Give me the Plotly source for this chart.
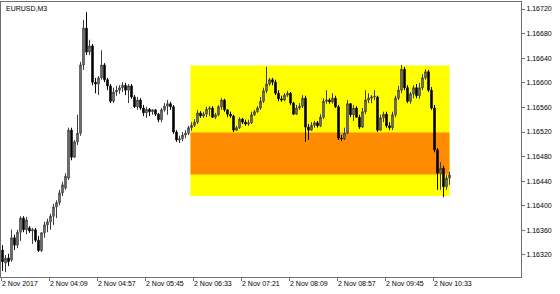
import pandas as pd
import plotly.graph_objects as go

# ---- data (EURUSD, M3, 2 Nov 2017) ----
start_time = "2017-11-02 03:21"
n_bars = 150

opens = [1.16328,1.16307,1.16315,1.16312,1.16348,1.16336,1.16357,1.16380,1.16361,1.16364,
         1.16359,1.16361,1.16344,1.16327,1.16356,1.16369,1.16374,1.16383,1.16398,1.16405,
         1.16421,1.16429,1.16445,1.16523,1.16479,1.16504,1.16518,1.16629,1.16689,1.16650,
         1.16660,1.16601,1.16598,1.16608,1.16629,1.16605,1.16595,1.16570,1.16585,1.16588,
         1.16592,1.16596,1.16588,1.16595,1.16577,1.16561,1.16572,1.16559,1.16551,1.16557,
         1.16553,1.16556,1.16549,1.16540,1.16556,1.16562,1.16566,1.16561,1.16520,1.16507,
         1.16509,1.16515,1.16518,1.16527,1.16531,1.16536,1.16551,1.16546,1.16549,1.16557,
         1.16559,1.16544,1.16548,1.16561,1.16572,1.16556,1.16549,1.16546,1.16523,1.16527,
         1.16541,1.16536,1.16533,1.16535,1.16548,1.16553,1.16559,1.16570,1.16587,1.16598,
         1.16605,1.16601,1.16583,1.16574,1.16572,1.16580,1.16583,1.16567,1.16549,1.16559,
         1.16562,1.16575,1.16528,1.16523,1.16531,1.16535,1.16530,1.16544,1.16570,1.16572,
         1.16569,1.16575,1.16561,1.16510,1.16509,1.16518,1.16566,1.16548,1.16559,1.16544,
         1.16528,1.16553,1.16572,1.16575,1.16577,1.16577,1.16523,1.16543,1.16549,1.16530,
         1.16527,1.16548,1.16575,1.16588,1.16622,1.16592,1.16570,1.16582,1.16592,1.16579,
         1.16592,1.16608,1.16618,1.16588,1.16559,1.16491,1.16453,1.16461,1.16431,1.16445]

highs = [1.16336,1.16320,1.16322,1.16361,1.16353,1.16361,1.16383,1.16383,1.16382,1.16367,
         1.16364,1.16364,1.16351,1.16357,1.16374,1.16379,1.16387,1.16403,1.16409,1.16426,
         1.16439,1.16453,1.16527,1.16527,1.16507,1.16548,1.16634,1.16702,1.16715,1.16670,
         1.16663,1.16608,1.16611,1.16653,1.16632,1.16608,1.16598,1.16592,1.16595,1.16596,
         1.16601,1.16600,1.16598,1.16598,1.16580,1.16577,1.16575,1.16564,1.16561,1.16559,
         1.16557,1.16557,1.16551,1.16559,1.16567,1.16572,1.16569,1.16564,1.16523,1.16514,
         1.16520,1.16523,1.16530,1.16536,1.16541,1.16556,1.16554,1.16553,1.16561,1.16562,
         1.16562,1.16551,1.16564,1.16575,1.16574,1.16557,1.16553,1.16548,1.16530,1.16544,
         1.16543,1.16540,1.16540,1.16553,1.16556,1.16562,1.16577,1.16592,1.16626,1.16608,
         1.16608,1.16605,1.16588,1.16579,1.16583,1.16587,1.16585,1.16569,1.16564,1.16567,
         1.16580,1.16579,1.16533,1.16536,1.16538,1.16538,1.16549,1.16575,1.16588,1.16575,
         1.16583,1.16579,1.16564,1.16515,1.16527,1.16572,1.16567,1.16564,1.16562,1.16548,
         1.16559,1.16588,1.16583,1.16580,1.16588,1.16579,1.16548,1.16553,1.16553,1.16536,
         1.16553,1.16579,1.16595,1.16629,1.16626,1.16596,1.16585,1.16596,1.16598,1.16600,
         1.16614,1.16622,1.16621,1.16593,1.16564,1.16494,1.16471,1.16465,1.16450,1.16455]

lows = [1.16294,1.16292,1.16302,1.16309,1.16328,1.16331,1.16343,1.16357,1.16354,1.16356,
        1.16338,1.16341,1.16325,1.16325,1.16348,1.16357,1.16361,1.16369,1.16380,1.16401,
        1.16416,1.16426,1.16442,1.16474,1.16478,1.16499,1.16514,1.16621,1.16645,1.16645,
        1.16596,1.16583,1.16580,1.16605,1.16601,1.16588,1.16567,1.16567,1.16579,1.16582,
        1.16585,1.16580,1.16567,1.16574,1.16559,1.16556,1.16556,1.16546,1.16543,1.16546,
        1.16548,1.16546,1.16536,1.16536,1.16553,1.16548,1.16556,1.16517,1.16504,1.16502,
        1.16505,1.16510,1.16515,1.16522,1.16528,1.16533,1.16543,1.16543,1.16544,1.16546,
        1.16543,1.16541,1.16546,1.16556,1.16553,1.16544,1.16543,1.16520,1.16522,1.16525,
        1.16533,1.16530,1.16530,1.16533,1.16546,1.16551,1.16556,1.16567,1.16583,1.16595,
        1.16596,1.16580,1.16570,1.16569,1.16570,1.16577,1.16564,1.16548,1.16548,1.16556,
        1.16559,1.16504,1.16507,1.16522,1.16527,1.16527,1.16528,1.16541,1.16566,1.16566,
        1.16566,1.16559,1.16507,1.16505,1.16507,1.16517,1.16544,1.16538,1.16543,1.16525,
        1.16527,1.16549,1.16567,1.16567,1.16572,1.16520,1.16522,1.16536,1.16527,1.16523,
        1.16523,1.16544,1.16572,1.16583,1.16588,1.16567,1.16566,1.16575,1.16575,1.16574,
        1.16588,1.16605,1.16585,1.16556,1.16487,1.16426,1.16426,1.16414,1.16426,1.16434]

closes = [1.16309,1.16315,1.16309,1.16348,1.16336,1.16357,1.16380,1.16361,1.16377,1.16359,
          1.16361,1.16344,1.16327,1.16356,1.16369,1.16374,1.16383,1.16398,1.16405,1.16421,
          1.16434,1.16448,1.16523,1.16479,1.16504,1.16518,1.16629,1.16689,1.16650,1.16660,
          1.16601,1.16598,1.16608,1.16629,1.16605,1.16595,1.16570,1.16585,1.16588,1.16592,
          1.16596,1.16588,1.16595,1.16577,1.16561,1.16572,1.16559,1.16551,1.16557,1.16553,
          1.16556,1.16549,1.16540,1.16556,1.16562,1.16566,1.16561,1.16520,1.16507,1.16509,
          1.16515,1.16518,1.16527,1.16531,1.16536,1.16551,1.16546,1.16549,1.16557,1.16559,
          1.16544,1.16548,1.16561,1.16572,1.16556,1.16549,1.16546,1.16523,1.16527,1.16541,
          1.16536,1.16533,1.16535,1.16548,1.16553,1.16559,1.16570,1.16587,1.16598,1.16605,
          1.16601,1.16583,1.16574,1.16572,1.16580,1.16583,1.16567,1.16549,1.16559,1.16562,
          1.16575,1.16528,1.16523,1.16531,1.16535,1.16530,1.16544,1.16570,1.16572,1.16569,
          1.16575,1.16561,1.16510,1.16509,1.16518,1.16566,1.16548,1.16559,1.16544,1.16528,
          1.16553,1.16572,1.16575,1.16577,1.16578,1.16523,1.16543,1.16549,1.16530,1.16527,
          1.16548,1.16575,1.16588,1.16622,1.16592,1.16570,1.16582,1.16592,1.16579,1.16592,
          1.16608,1.16618,1.16588,1.16559,1.16491,1.16453,1.16461,1.16431,1.16445,1.16450]

# rectangles (time1, time2, price_low, price_high)
outer_rect = ("2017-11-02 06:29", "2017-11-02 10:48", 1.16416, 1.16628)
inner_rect = ("2017-11-02 06:29", "2017-11-02 10:48", 1.16451, 1.16519)

x_tick_times = ["2017-11-02 03:19:30", "2017-11-02 04:07:30", "2017-11-02 04:55:30",
                "2017-11-02 05:43:30", "2017-11-02 06:31:30", "2017-11-02 07:19:30",
                "2017-11-02 08:07:30", "2017-11-02 08:55:30", "2017-11-02 09:43:30",
                "2017-11-02 10:31:30"]
x_tick_labels = ["2 Nov 2017", "2 Nov 04:09", "2 Nov 04:57", "2 Nov 05:45", "2 Nov 06:33",
                 "2 Nov 07:21", "2 Nov 08:09", "2 Nov 08:57", "2 Nov 09:45", "2 Nov 10:33"]
y_tick_vals = [1.16320, 1.16360, 1.16400, 1.16440, 1.16480, 1.16520,
               1.16560, 1.16600, 1.16640, 1.16680, 1.16720]
y_range = [1.162842, 1.167314]
x_range = ["2017-11-02 03:19:30", "2017-11-02 11:59:30"]

times = pd.date_range(start_time, periods=n_bars, freq="3min")

fig = go.Figure()
fig.add_trace(go.Candlestick(
    x=times, open=opens, high=highs, low=lows, close=closes,
    increasing=dict(line=dict(color="#3a3a3a", width=1), fillcolor="#9a9a9a"),
    decreasing=dict(line=dict(color="#000000", width=1), fillcolor="#000000"),
    whiskerwidth=0, showlegend=False, hoverinfo="skip"))

for (t1, t2, p1, p2), col in [(outer_rect, "#FFFF00"), (inner_rect, "#FF8C00")]:
    fig.add_shape(type="rect", xref="x", yref="y", x0=t1, x1=t2, y0=p1, y1=p2,
                  fillcolor=col, line=dict(width=0), layer="below")

font = dict(family="Liberation Sans, Arial, sans-serif", size=7, color="#000000")

fig.add_annotation(text="EURUSD,M3", xref="paper", yref="paper", x=0, y=1,
                   xanchor="left", yanchor="top", xshift=3, yshift=-1,
                   showarrow=False, font=font)

fig.update_layout(
    width=560, height=294,
    margin=dict(l=1, r=39, t=2, b=17),
    paper_bgcolor="white", plot_bgcolor="white",
    font=font,
    xaxis=dict(type="date", range=x_range, rangeslider=dict(visible=False),
               showgrid=False, zeroline=False,
               showline=True, mirror=True, linecolor="#6e6e6e", linewidth=1,
               ticks="outside", ticklen=3, tickcolor="#6e6e6e",
               tickvals=x_tick_times, ticktext=x_tick_labels,
               ticklabelposition="outside right", tickfont=font),
    yaxis=dict(range=y_range, side="right", showgrid=False, zeroline=False,
               showline=True, mirror=True, linecolor="#6e6e6e", linewidth=1,
               ticks="outside", ticklen=3, tickcolor="#6e6e6e",
               tickvals=y_tick_vals, tickformat=".5f", tickfont=font),
)

fig.write_html("out.html")
